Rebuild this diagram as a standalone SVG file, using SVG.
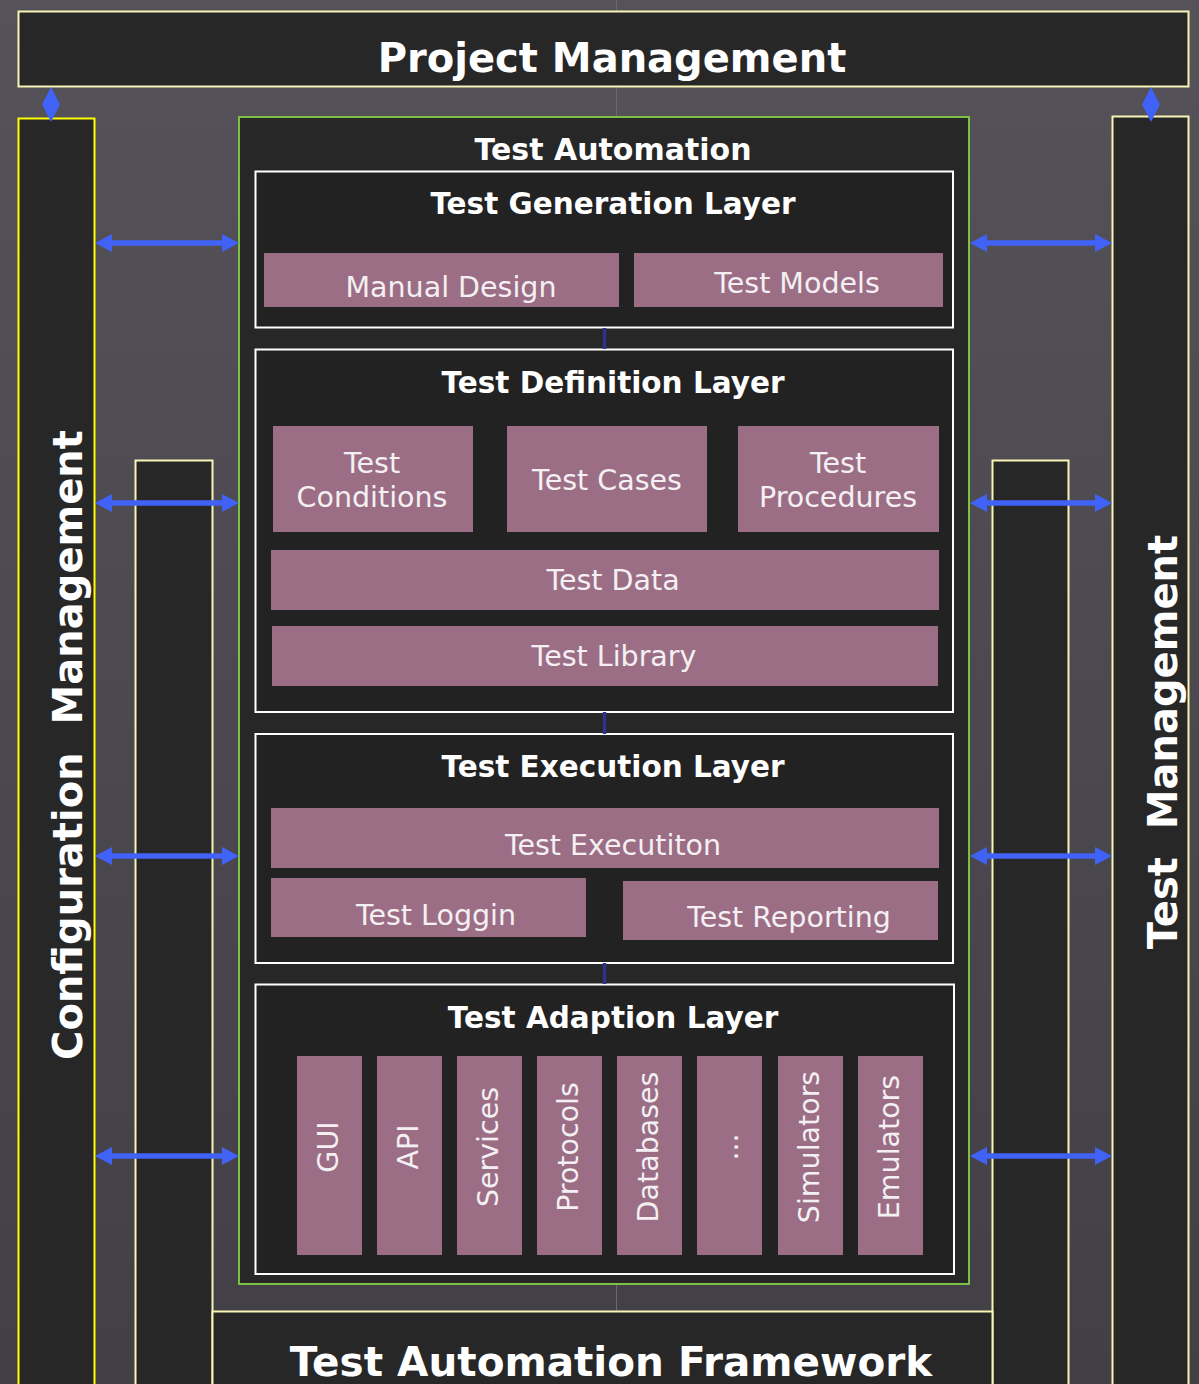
<svg xmlns="http://www.w3.org/2000/svg" width="1199" height="1384" viewBox="0 0 1199 1384">
<defs>
<linearGradient id="bg" x1="0" y1="0" x2="0" y2="1">
<stop offset="0" stop-color="#55525a"/>
<stop offset="1" stop-color="#423f47"/>
</linearGradient>
<marker id="ah" markerUnits="userSpaceOnUse" markerWidth="17" markerHeight="18" refX="7" refY="9" orient="auto-start-reverse" viewBox="0 0 17 18">
<path d="M0,0 L17,9 L0,18 z" fill="#4062f7"/>
</marker>
<style>
.dark{fill:#272727}
.cream{stroke:#f8f4b6;stroke-width:2}
.layer{fill:#222222;stroke:#ffffff;stroke-width:2}
.item{fill:#9b6e86}
.bold{font-family:"DejaVu Sans","Liberation Sans",sans-serif;font-weight:bold;fill:#ffffff;text-anchor:middle}
.reg{font-family:"DejaVu Sans","Liberation Sans",sans-serif;font-size:28.5px;fill:#f4f0f2;text-anchor:middle}
.arrow{stroke:#4062f7;stroke-width:5.5;fill:none;marker-start:url(#ah);marker-end:url(#ah)}
.diamond{fill:#4062f7}
.link{stroke:#2d3190;stroke-width:3.5}
</style>
</defs>
<rect width="1199" height="1384" fill="url(#bg)"/>
<line x1="616.5" y1="0" x2="616.5" y2="1384" stroke="#6a6870" stroke-width="1"/>

<g id="project-management">
<rect x="18.5" y="11.5" width="1170" height="75" class="dark cream"/>
<text x="612" y="72" class="bold" font-size="40">Project Management</text>
</g>

<g id="configuration-management">
<rect x="18.5" y="118.5" width="76" height="1280" class="dark" stroke="#ffff00" stroke-width="2"/>
<text transform="translate(82,745) rotate(-90)" class="bold" font-size="40" style="white-space:pre">Configuration  Management</text>
</g>

<g id="test-management">
<rect x="1112.5" y="116.5" width="76" height="1280" class="dark cream"/>
<text transform="translate(1177,742) rotate(-90)" class="bold" font-size="40" style="white-space:pre">Test  Management</text>
</g>

<g id="left-inner-column">
<rect x="135.5" y="460.5" width="77" height="940" class="dark cream"/>
</g>
<g id="right-inner-column">
<rect x="992.5" y="460.5" width="76" height="940" class="dark cream"/>
</g>

<g id="test-automation-framework">
<rect x="212.5" y="1311.5" width="780" height="90" class="dark cream"/>
<text x="611" y="1376" class="bold" font-size="40.5">Test Automation Framework</text>
</g>

<g id="test-automation">
<rect x="239" y="117" width="730" height="1167" class="dark" stroke="#7cc142" stroke-width="2"/>
<text x="613" y="160" class="bold" font-size="30">Test Automation</text>
</g>

<g id="test-generation-layer">
<rect x="255.5" y="171.5" width="697.5" height="156" class="layer"/>
<text x="613" y="214" class="bold" font-size="29.5">Test Generation Layer</text>
<g id="manual-design"><rect x="264" y="253" width="355" height="54" class="item"/><text x="451" y="297" class="reg">Manual Design</text></g>
<g id="test-models"><rect x="634" y="253" width="309" height="54" class="item"/><text x="797" y="293" class="reg">Test Models</text></g>
</g>

<g id="test-definition-layer">
<rect x="255.5" y="349.5" width="697.5" height="362.5" class="layer"/>
<text x="613" y="393" class="bold" font-size="29.5">Test Definition Layer</text>
<g id="test-conditions"><rect x="273" y="426" width="200" height="106" class="item"/><text x="372" y="473" class="reg">Test</text><text x="372" y="507" class="reg">Conditions</text></g>
<g id="test-cases"><rect x="507" y="426" width="200" height="106" class="item"/><text x="607" y="490" class="reg">Test Cases</text></g>
<g id="test-procedures"><rect x="738" y="426" width="201" height="106" class="item"/><text x="838" y="473" class="reg">Test</text><text x="838" y="507" class="reg">Procedures</text></g>
<g id="test-data"><rect x="271" y="550" width="668" height="60" class="item"/><text x="613" y="590" class="reg">Test Data</text></g>
<g id="test-library"><rect x="272" y="626" width="666" height="60" class="item"/><text x="614" y="666" class="reg">Test Library</text></g>
</g>

<g id="test-execution-layer">
<rect x="255.5" y="734" width="697.5" height="229" class="layer"/>
<text x="613" y="777" class="bold" font-size="29.5">Test Execution Layer</text>
<g id="test-execution"><rect x="271" y="808" width="668" height="60" class="item"/><text x="613" y="855" class="reg">Test Executiton</text></g>
<g id="test-logging"><rect x="271" y="878" width="315" height="59" class="item"/><text x="436" y="925" class="reg">Test Loggin</text></g>
<g id="test-reporting"><rect x="623" y="881" width="315" height="59" class="item"/><text x="789" y="927" class="reg">Test Reporting</text></g>
</g>

<g id="test-adaption-layer">
<rect x="255.5" y="984.5" width="698.5" height="289.5" class="layer"/>
<text x="613" y="1028" class="bold" font-size="29.5">Test Adaption Layer</text>
<g id="gui"><rect x="297" y="1056" width="65" height="199" class="item"/><text transform="translate(338,1147) rotate(-90)" class="reg">GUI</text></g>
<g id="api"><rect x="377" y="1056" width="65" height="199" class="item"/><text transform="translate(418,1147) rotate(-90)" class="reg">API</text></g>
<g id="services"><rect x="457" y="1056" width="65" height="199" class="item"/><text transform="translate(498,1147) rotate(-90)" class="reg">Services</text></g>
<g id="protocols"><rect x="537" y="1056" width="65" height="199" class="item"/><text transform="translate(578,1147) rotate(-90)" class="reg">Protocols</text></g>
<g id="databases"><rect x="617" y="1056" width="65" height="199" class="item"/><text transform="translate(658,1147) rotate(-90)" class="reg">Databases</text></g>
<g id="more"><rect x="697" y="1056" width="65" height="199" class="item"/><text transform="translate(738,1147) rotate(-90)" class="reg" font-size="20">...</text></g>
<g id="simulators"><rect x="778" y="1056" width="65" height="199" class="item"/><text transform="translate(819,1147) rotate(-90)" class="reg">Simulators</text></g>
<g id="emulators"><rect x="858" y="1056" width="65" height="199" class="item"/><text transform="translate(899,1147) rotate(-90)" class="reg">Emulators</text></g>
</g>

<g id="connectors">
<line x1="604.5" y1="328" x2="604.5" y2="349" class="link"/>
<line x1="604.5" y1="712" x2="604.5" y2="734" class="link"/>
<line x1="604.5" y1="963" x2="604.5" y2="984" class="link"/>
<polygon points="51,87 60,104.5 51,122 42,104.5" class="diamond"/>
<polygon points="1151,87 1160,104.5 1151,122 1142,104.5" class="diamond"/>
<line x1="105" y1="243" x2="229" y2="243" class="arrow"/>
<line x1="105" y1="503" x2="229" y2="503" class="arrow"/>
<line x1="105" y1="856" x2="229" y2="856" class="arrow"/>
<line x1="105" y1="1156" x2="229" y2="1156" class="arrow"/>
<line x1="980" y1="243" x2="1102" y2="243" class="arrow"/>
<line x1="980" y1="503" x2="1102" y2="503" class="arrow"/>
<line x1="980" y1="856" x2="1102" y2="856" class="arrow"/>
<line x1="980" y1="1156" x2="1102" y2="1156" class="arrow"/>
</g>
</svg>
